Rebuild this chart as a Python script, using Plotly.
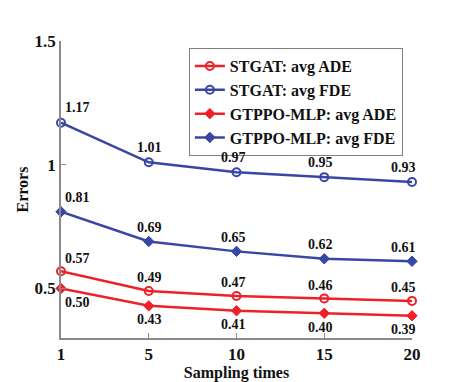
import plotly.graph_objects as go

# ---- data ----
sampling_times = ["1", "5", "10", "15", "20"]
stgat_ade = [0.57, 0.49, 0.47, 0.46, 0.45]
stgat_fde = [1.17, 1.01, 0.97, 0.95, 0.93]
gtppo_ade = [0.50, 0.43, 0.41, 0.40, 0.39]
gtppo_fde = [0.81, 0.69, 0.65, 0.62, 0.61]
y_tick_vals = [0.5, 1.0, 1.5]
y_tick_text = ["0.5", "1", "1.5"]

# ---- styles ----
RED = "#ee2129"
BLUE = "#3846a6"
SERIF = "Liberation Serif, Times New Roman, serif"
label_dx = [16, 1, -3, -4, -9]

series = [
    ("STGAT: avg ADE", stgat_ade, RED, "circle-open", 13),
    ("STGAT: avg FDE", stgat_fde, BLUE, "circle-open", 15),
    ("GTPPO-MLP: avg ADE", gtppo_ade, RED, "diamond", -14),
    ("GTPPO-MLP: avg FDE", gtppo_fde, BLUE, "diamond", 14),
]

fig = go.Figure()
annotations = []
for name, vals, color, sym, dy in series:
    is_open = sym.endswith("open")
    fig.add_trace(go.Scatter(
        x=sampling_times, y=vals, name="<b>%s</b>" % name, mode="lines+markers",
        line=dict(color=color, width=2.5),
        marker=dict(symbol=sym, size=8, color=color,
                    line=dict(color=color, width=2 if is_open else 1)),
        cliponaxis=False,
    ))
    for i, yv in enumerate(vals):
        annotations.append(dict(
            x=i, y=yv, xref="x", yref="y", text="<b>%.2f</b>" % yv, showarrow=False,
            xshift=label_dx[i], yshift=dy,
            font=dict(family=SERIF, size=14, color="#111"),
        ))

fig.update_layout(
    width=471, height=382, autosize=False,
    paper_bgcolor="white", plot_bgcolor="white",
    margin=dict(l=61, r=59, t=41, b=44, autoexpand=False),
    font=dict(family=SERIF, color="#111"),
    showlegend=True,
    legend=dict(
        x=0.974, y=0.976, xanchor="right", yanchor="top",
        bgcolor="white", bordercolor="#808080", borderwidth=1,
        font=dict(family=SERIF, size=16, color="#111"),
        tracegroupgap=0, itemsizing="trace",
    ),
    annotations=annotations,
)
fig.update_xaxes(
    type="category", range=[0, 4], automargin=False,
    showline=True, linecolor="#8a8a8a", linewidth=1.5, mirror=False,
    ticks="inside", ticklen=5, tickcolor="#8a8a8a", tickwidth=1,
    showgrid=False, zeroline=False,
    tickfont=dict(family=SERIF, size=17, color="#111"),
    ticktext=["<b>%s</b>" % t for t in sampling_times], tickvals=sampling_times,
    title=dict(text="<b>Sampling times</b>", font=dict(family=SERIF, size=16, color="#111"), standoff=0),
)
fig.update_yaxes(
    range=[0.3, 1.5], automargin=False,
    showline=True, linecolor="#8a8a8a", linewidth=1.5, mirror=False,
    ticks="inside", ticklen=5, tickcolor="#8a8a8a", tickwidth=1,
    showgrid=False, zeroline=False,
    tickvals=y_tick_vals, ticktext=["<b>%s</b>" % t for t in y_tick_text],
    tickfont=dict(family=SERIF, size=17, color="#111"),
    title=dict(text="<b>Errors</b>", font=dict(family=SERIF, size=16, color="#111"), standoff=2),
)

fig.write_html(
    "out.html", config={"displayModeBar": False},
    post_script="document.body.style.margin='0';document.body.style.padding='0';",
)
